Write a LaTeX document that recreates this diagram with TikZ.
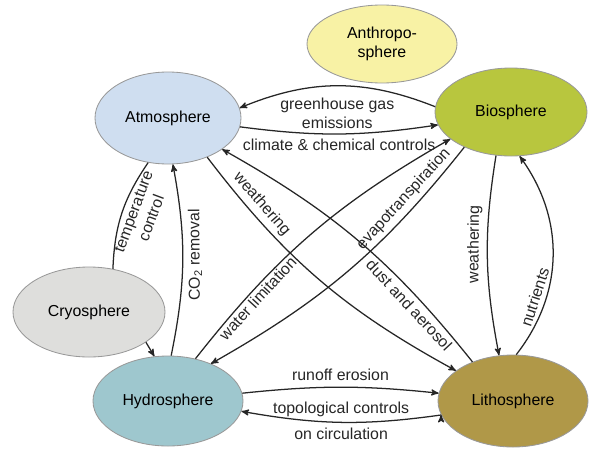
\documentclass[tikz,border=0pt]{standalone}
\usepackage{fontspec}
\setmainfont{Liberation Sans}
\usepackage{tikz}
\usetikzlibrary{positioning}
\usetikzlibrary{arrows}
\usetikzlibrary{shapes}
\definecolor{atmo}{RGB}{207,222,240}
\definecolor{anthro}{RGB}{248,242,165}
\definecolor{bio}{RGB}{184,198,62}
\definecolor{cryo}{RGB}{222,222,220}
\definecolor{hydro}{RGB}{158,199,206}
\definecolor{litho}{RGB}{176,152,72}
\tikzset{sphere node/.style={ellipse,draw=black!40,line width=0.6pt,inner sep=0pt,minimum width=3.75cm,minimum height=2.25cm,align=center},}

\begin{document}
\begin{tikzpicture}[->, >=stealth', on grid, line width=0.9pt, every node/.style={font=\fontsize{11.3}{13.5}\selectfont}]
	\useasboundingbox (0,0) rectangle (14.85,-11.2);
	\node[sphere node, fill=atmo, minimum width=3.65cm, minimum height=2.3cm] (atm) at (4.2,-2.95) {Atmosphere};
	\node[sphere node, fill=anthro, minimum height=1.95cm] (anth) [above right=1.85cm and 5.35cm of atm] {Anthropo-\\sphere};
	\node[sphere node, fill=bio, minimum width=3.8cm, minimum height=2.2cm] (bio) [above right=0.15cm and 8.575cm of atm] {Biosphere};
	\node[sphere node, fill=cryo, minimum width=3.8cm] (cryo) [below left=4.85cm and 1.975cm of atm] {Cryosphere};
	\node[sphere node, fill=hydro] (hyd) [below=7.075cm of atm] {Hydrosphere};
	\node[sphere node, fill=litho, minimum height=2.3cm] (lith) [right=8.625cm of hyd] {Lithosphere};

	\path[draw, black!85]
	(bio.176) edge [bend right=22] node[below=5pt, align=center] {greenhouse gas\\emissions} (atm.8)
	(atm.-7) edge [bend right=8] node[below] {climate \& chemical controls} (bio.-170)
	(cryo.61) edge [-, bend left=16] node[sloped, below, pos=0.55, align=center, allow upside down] {temperature\\control} (atm.-114)
	(hyd.86) edge [bend right=11] node[sloped, below, pos=0.53, allow upside down] {CO\textsubscript{2} removal} (atm.-84)
	(cryo.-28) edge (hyd.107)
	(atm.-45) edge [bend right=12] node[sloped, above, pos=0.2] {weathering} (lith.152)
	(atm.-30) edge [<-, bend left=11] node[sloped, below, pos=0.76] {dust and aerosol} (lith.136)
	(hyd.57) edge [bend left=11] node[sloped, below, pos=0.24, inner sep=1.5pt] {water limitation} (bio.204)
	(hyd.41) edge [<-, bend right=11] node[sloped, above, pos=0.78] {evapotranspiration} (bio.217)
	(lith.107) edge [<-, bend left=10] node[sloped, above, pos=0.56, allow upside down] {weathering} (bio.-109)
	(lith.86) edge [bend right=37] node[sloped, above, pos=0.28] {nutrients} (bio.-79)
	(hyd.6) edge [bend left=6] node[above=1pt] {runoff erosion} (lith.174)
	(lith.-169) edge [bend left=9] node[above] {topological controls} node[below] {on circulation} (hyd.-8);
\end{tikzpicture}
\end{document}
